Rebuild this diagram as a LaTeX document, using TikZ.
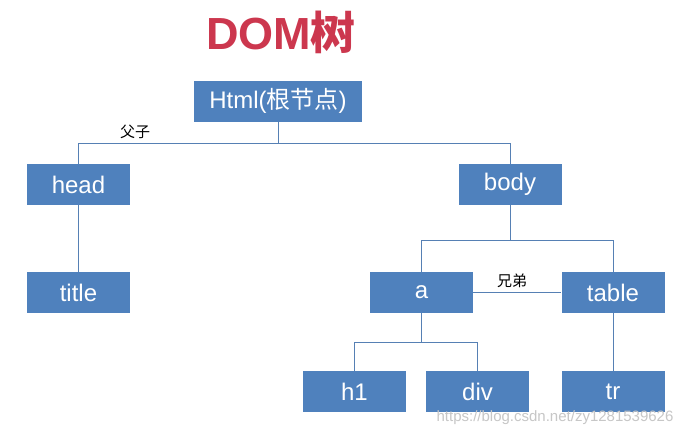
\documentclass[tikz,border=0pt]{standalone}
\usepackage{fontspec}
\setmainfont{Liberation Sans}
\setsansfont{Liberation Sans}
\newfontfamily\cjk{Noto Sans CJK SC}
\definecolor{boxblue}{RGB}{79,129,189}
\definecolor{linkblue}{RGB}{86,128,180}
\definecolor{titlered}{RGB}{204,55,78}
\begin{document}
\begin{tikzpicture}[x=1pt,y=-1pt,
  tbox/.style={fill=boxblue, draw=none, minimum width=103pt, minimum height=41pt, inner sep=0pt, text=white, font=\fontsize{24}{24}\selectfont\sffamily},
  conn/.style={draw=linkblue, line width=1pt},
  lbl/.style={font=\fontsize{15}{15}\selectfont\cjk, text=black, inner sep=0pt}]
\useasboundingbox[fill=white] (0,0) rectangle (689,437);
\node[text=titlered, font=\fontsize{45}{45}\selectfont\bfseries, inner sep=0pt] (ttl) at (281,32) {DOM{\cjk 树}};
\node[tbox, minimum width=168pt] (html) at (278,101) {Html({\cjk 根节点})};
\node[tbox] (head) at (78.5,184.5) {head};
\node[tbox] (title) at (78.5,292.5) {title};
\node[tbox] (body) at (510,184.5) {body};
\node[tbox] (a) at (421.5,292.5) {a};
\node[tbox] (table) at (613,292.5) {table};
\node[tbox] (h1) at (354.5,391.5) {h1};
\node[tbox] (div) at (477.5,391.5) {div};
\node[tbox] (tr) at (613,391.5) {tr};
\coordinate (j1) at (278,143);
\coordinate (j2) at (510,240);
\coordinate (j3) at (421.5,342);
\draw[conn] (html.south) -- (j1) -| (head.north);
\draw[conn] (j1) -| (body.north);
\draw[conn] (head.south) -- (title.north);
\draw[conn] (body.south) -- (j2) -| (a.north);
\draw[conn] (j2) -| (table.north);
\draw[conn] (a.south) -- (j3) -| (h1.north);
\draw[conn] (j3) -| (div.north);
\draw[conn] (table.south) -- (tr.north);
\draw[conn] (a.east) -- (table.west);
\node[lbl] (fz) at (135,132) {父子};
\node[lbl] (xd) at (512,281) {兄弟};
\node[text=black!22, font=\fontsize{15}{15}\selectfont\sffamily, inner sep=0pt] (wm) at (555,418) {https://blog.csdn.net/zy1281539626};
\end{tikzpicture}
\end{document}
